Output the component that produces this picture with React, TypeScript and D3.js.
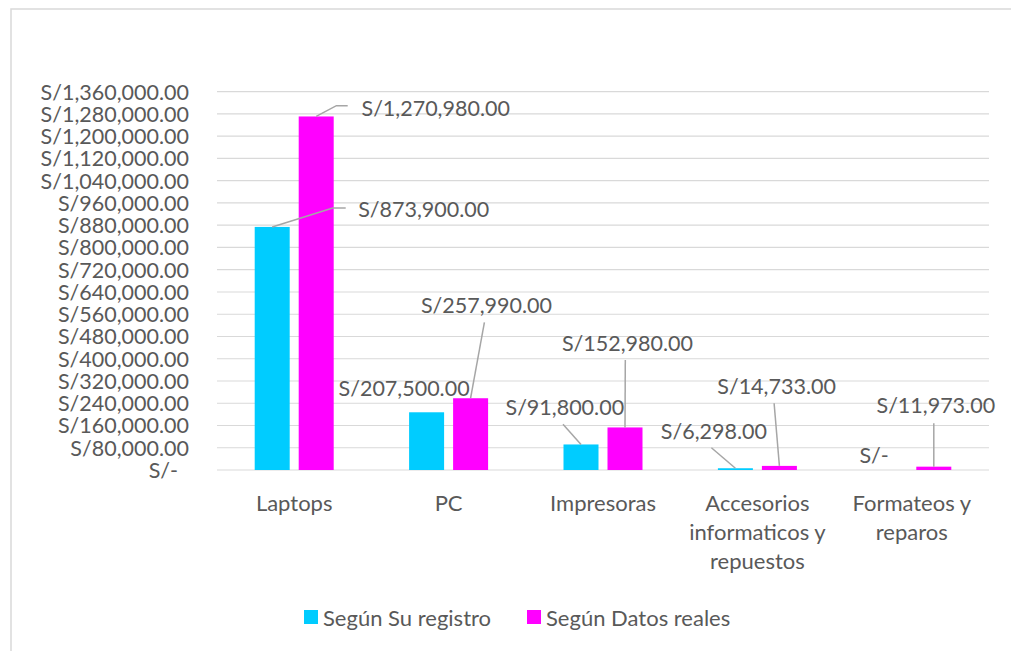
import React from "react";
import * as d3 from "d3";

const categories: string[][] = [
  ["Laptops"],
  ["PC"],
  ["Impresoras"],
  ["Accesorios", "informaticos y", "repuestos"],
  ["Formateos y", "reparos"],
];
const seriesNames = ["Según Su registro", "Según Datos reales"];
const seriesColors = ["#00CCFF", "#FF00FF"];
const registro = [873900, 207500, 91800, 6298, 0];
const reales = [1270980, 257990, 152980, 14733, 11973];
const yTicks = [
  0, 80000, 160000, 240000, 320000, 400000, 480000, 560000, 640000, 720000,
  800000, 880000, 960000, 1040000, 1120000, 1200000, 1280000, 1360000,
];

// label layout: offset of label center from bar top-center, leader polyline offsets
type LabelLayout = { dx: number; dy: number; leader: [number, number][] | null };
const labelLayout: LabelLayout[][] = [
  [
    { dx: 151.5, dy: -18, leader: [[0, 0], [60.5, -18.9], [73.5, -18.9]] },
    { dx: 119.5, dy: -8.5, leader: [[0, 0], [20.2, -10.8], [31.5, -10.8]] },
  ],
  [
    { dx: -22.5, dy: -24.3, leader: null },
    { dx: 15.9, dy: -93.2, leader: [[0, 0], [13.8, -75.9]] },
  ],
  [
    { dx: -16.2, dy: -37.5, leader: [[0, 0], [-18, -20.2]] },
    { dx: 2.5, dy: -84.7, leader: [[0, 0], [0.3, -67.4]] },
  ],
  [
    { dx: -21.5, dy: -37.2, leader: [[0, 0], [-24, -20.5]] },
    { dx: -2.8, dy: -80.2, leader: [[0, 0], [-5.3, -62.6]] },
  ],
  [
    { dx: -15.7, dy: -15, leader: null },
    { dx: 2, dy: -61.7, leader: [[0, 0], [0, -43.4]] },
  ],
];

const W = 1011;
const H = 651;
const plotLeft = 217;
const plotRight = 989;
const plotTop = 91.7;
const plotBottom = 470;
const FONT = "Lato, 'Open Sans', sans-serif";
const FS_NUM = 21.5;
const FS_TXT = 22;
const TEXT = "#595959";
const GRID = "#D9D9D9";

const fmt = (v: number) => (v === 0 ? "S/-" : "S/" + d3.format(",.2f")(v));

export default function App() {
  const y = d3.scaleLinear().domain([0, 1360000]).range([plotBottom, plotTop]);
  const x0 = d3
    .scaleBand<number>()
    .domain(categories.map((_, i) => i))
    .range([plotLeft, plotRight])
    .paddingInner(0)
    .paddingOuter(0);
  const groupW = 79;
  const x1 = d3
    .scaleBand<number>()
    .domain([0, 1])
    .range([0, groupW])
    .paddingInner(9 / 44)
    .paddingOuter(0);
  const series = [registro, reales];
  const line = d3.line<[number, number]>();

  return (
    <svg
      width={W}
      height={H}
      style={{ position: "absolute", left: 0, top: 0, background: "#fff" }}
      fontFamily={FONT}
    >
      <rect x={0} y={0} width={W} height={H} fill="#fff" />
      <rect x={11} y={9} width={W + 20} height={H + 20} fill="none" stroke={GRID} strokeWidth={1.5} />
      {yTicks.map((t) => (
        <g key={t}>
          <line x1={plotLeft} x2={plotRight} y1={y(t)} y2={y(t)} stroke={GRID} strokeWidth={1.2} />
          <text
            x={t === 0 ? 178 : 189}
            y={y(t)}
            textAnchor="end"
            dominantBaseline="central"
            fontSize={FS_NUM}
            fill={TEXT}
          >
            {fmt(t)}
          </text>
        </g>
      ))}
      {series.map((vals, s) =>
        vals.map((v, i) => {
          const gx = x0(i)! + (x0.bandwidth() - groupW) / 2;
          const bx = gx + x1(s)!;
          const bw = x1.bandwidth();
          const top = y(v);
          return (
            <rect
              key={`b${s}-${i}`}
              x={bx}
              y={top}
              width={bw}
              height={plotBottom - top}
              fill={seriesColors[s]}
            />
          );
        })
      )}
      {series.map((vals, s) =>
        vals.map((v, i) => {
          const gx = x0(i)! + (x0.bandwidth() - groupW) / 2;
          const cx = gx + x1(s)! + x1.bandwidth() / 2;
          const top = y(v);
          const L = labelLayout[i][s];
          return (
            <g key={`l${s}-${i}`}>
              {L.leader && (
                <path
                  d={line(L.leader.map(([a, b]) => [cx + a, top + b]))!}
                  fill="none"
                  stroke="#A6A6A6"
                  strokeWidth={1.5}
                />
              )}
              <text
                x={cx + L.dx}
                y={top + L.dy}
                textAnchor="middle"
                dominantBaseline="central"
                fontSize={FS_NUM}
                fill={TEXT}
              >
                {fmt(v)}
              </text>
            </g>
          );
        })
      )}
      {categories.map((lines, i) => (
        <text
          key={`c${i}`}
          x={x0(i)! + x0.bandwidth() / 2}
          textAnchor="middle"
          fontSize={FS_TXT}
          fill={TEXT}
        >
          {lines.map((ln, k) => (
            <tspan key={k} x={x0(i)! + x0.bandwidth() / 2} y={502 + k * 29} dominantBaseline="central">
              {ln}
            </tspan>
          ))}
        </text>
      ))}
      {seriesNames.map((n, s) => {
        const lx = s === 0 ? 304 : 527;
        return (
          <g key={n}>
            <rect x={lx} y={610} width={14} height={14} fill={seriesColors[s]} />
            <text x={lx + 19} y={617} dominantBaseline="central" fontSize={FS_TXT} fill={TEXT}>
              {n}
            </text>
          </g>
        );
      })}
    </svg>
  );
}
